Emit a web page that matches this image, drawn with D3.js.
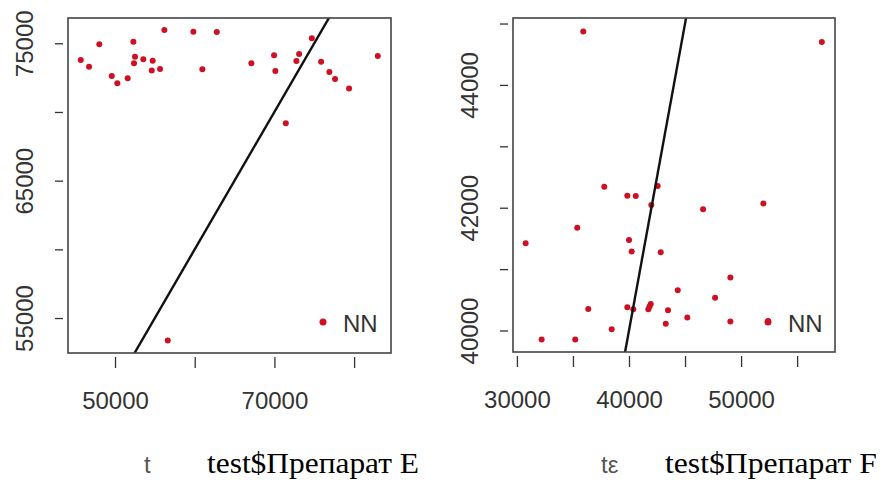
<!DOCTYPE html>
<html>
<head>
<meta charset="utf-8">
<script src="https://cdn.jsdelivr.net/npm/d3@7"></script>
<style>
  body { margin: 0; background: #fff; }
  svg { display: block; }
</style>
</head>
<body>
<div id="chart"></div>
<script>
'use strict';

// Препарат E: x = test, y = NN
var xE = [45700, 46740, 48030, 49590, 50290, 51590, 52300, 52510, 52385, 53550,
          54730, 54610, 55650, 56190, 59830, 60960, 62770, 67110, 69960, 70120,
          71430, 72760, 73100, 74690, 75860, 76900, 77610, 79370, 82970, 56615];
var yE = [73785, 73300, 74930, 72620, 72090, 72455, 75115, 74025, 73545, 73835,
          73735, 73010, 73130, 75970, 75845, 73110, 75820, 73545, 74130, 72985,
          69180, 73710, 74220, 75365, 73660, 72910, 72400, 71700, 74080, 53370];

// Препарат F
var xF = [35920, 57205, 37795, 39850, 40600, 42560, 41990, 46610, 51990, 35385,
          30777, 40000, 40240, 42830, 49045, 44350, 47680, 36365, 39850, 40385,
          41725, 41940, 41830, 43480, 43280, 45205, 49045, 38455, 32205, 35205,
          52410];
var yF = [44870, 44700, 42340, 42195, 42190, 42355, 42045, 41975, 42070, 41675,
          41420, 41475, 41285, 41275, 40865, 40655, 40535, 40350, 40380, 40345,
          40345, 40430, 40390, 40330, 40110, 40210, 40145, 40020, 39855, 39855,
          40155];

// axis limits (R usr) and ticks
var xLimE = [44100, 84630], yLimE = [52455, 76840];
var xLimF = [29650, 58380], yLimF = [39650, 45090];
var xTicksE = [50000, 60000, 70000, 80000], xLabelsE = [50000, 70000];
var yTicksE = [55000, 60000, 65000, 70000, 75000], yLabelsE = [55000, 65000, 75000];
var xTicksF = [30000, 35000, 40000, 45000, 50000, 55000], xLabelsF = [30000, 40000, 50000];
var yTicksF = [40000, 41000, 42000, 43000, 44000, 45000], yLabelsF = [40000, 42000, 44000];

// abline(0, 1)
var abline = [0, 1];
var legendLabel = 'NN';
var titles = ['test$Препарат E', 'test$Препарат F'];
var ghostTitles = ['t', 'tε'];

var width = 882, height = 489;
var red = '#cf0f22';

var svg = d3.select('#chart').append('svg')
  .attr('width', width)
  .attr('height', height);

function panel(opts) {
  var b = opts.box;
  var x = d3.scaleLinear().domain(opts.xLim).range([b.left, b.right]);
  var y = d3.scaleLinear().domain(opts.yLim).range([b.bottom, b.top]);
  var g = svg.append('g');

  g.append('clipPath').attr('id', opts.id)
    .append('rect')
    .attr('x', b.left).attr('y', b.top)
    .attr('width', b.right - b.left).attr('height', b.bottom - b.top);

  var pts = opts.xs.map(function(d, i) { return [d, opts.ys[i]]; });

  g.selectAll('circle.pt')
    .data(pts)
    .enter().append('circle')
    .attr('class', 'pt')
    .attr('cx', function(d) { return x(d[0]); })
    .attr('cy', function(d) { return y(d[1]); })
    .attr('r', 3)
    .attr('fill', red);

  var x0 = opts.xLim[0], x1 = opts.xLim[1];
  g.append('line')
    .attr('clip-path', 'url(#' + opts.id + ')')
    .attr('x1', x(x0)).attr('y1', y(abline[0] + abline[1] * x0))
    .attr('x2', x(x1)).attr('y2', y(abline[0] + abline[1] * x1))
    .attr('stroke', '#111')
    .attr('stroke-width', 2.4);

  g.append('rect')
    .attr('x', b.left).attr('y', b.top)
    .attr('width', b.right - b.left).attr('height', b.bottom - b.top)
    .attr('fill', 'none')
    .attr('stroke', '#444')
    .attr('stroke-width', 1.6);

  var xAxis = d3.axisBottom(x)
    .tickValues(opts.xTicks)
    .tickSize(11)
    .tickSizeOuter(0)
    .tickFormat(function(d) { return opts.xLabels.indexOf(d) >= 0 ? d : ''; });

  var ax = g.append('g')
    .attr('transform', 'translate(0,' + (b.bottom + 4) + ')')
    .call(xAxis);
  ax.select('.domain').remove();
  ax.selectAll('line').attr('stroke', '#333').attr('stroke-width', 1.3);
  ax.selectAll('text')
    .attr('y', 52).attr('dy', null)
    .attr('fill', '#333')
    .style('font', '24px "Liberation Sans", Arial, sans-serif');

  var yAxis = d3.axisLeft(y)
    .tickValues(opts.yTicks)
    .tickSize(8)
    .tickSizeOuter(0)
    .tickFormat(function(d) { return opts.yLabels.indexOf(d) >= 0 ? d : ''; });

  var ay = g.append('g')
    .attr('transform', 'translate(' + (b.left - 5) + ',0)')
    .call(yAxis);
  ay.select('.domain').remove();
  ay.selectAll('line').attr('stroke', '#333').attr('stroke-width', 1.3);
  ay.selectAll('text')
    .attr('x', null).attr('dy', null)
    .attr('text-anchor', 'middle')
    .attr('transform', 'translate(-30,0) rotate(-90)')
    .attr('fill', '#333')
    .style('font', '24px "Liberation Sans", Arial, sans-serif');

  // legend
  g.append('circle')
    .attr('cx', opts.legend[0]).attr('cy', opts.legend[1])
    .attr('r', 3.5)
    .attr('fill', red);
  g.append('text')
    .attr('x', opts.legend[0] + 20).attr('y', opts.legend[1] + 10)
    .attr('fill', '#333')
    .style('font', '24px "Liberation Sans", Arial, sans-serif')
    .text(legendLabel);

  // remains of the original axis title
  g.append('text')
    .attr('x', opts.ghostX).attr('y', 473)
    .attr('fill', '#555')
    .style('font', '24px "Liberation Sans", Arial, sans-serif')
    .text(opts.ghost);

  g.append('text')
    .attr('x', opts.titleX).attr('y', 473)
    .attr('fill', '#000')
    .attr('textLength', 212)
    .attr('lengthAdjust', 'spacingAndGlyphs')
    .style('font', '30px "Liberation Serif", "Times New Roman", serif')
    .text(opts.title);
}

panel({
  id: 'clipE',
  box: {left: 68, right: 391, top: 18, bottom: 353},
  xs: xE, ys: yE,
  xLim: xLimE, yLim: yLimE,
  xTicks: xTicksE, xLabels: xLabelsE,
  yTicks: yTicksE, yLabels: yLabelsE,
  legend: [323, 322],
  title: titles[0], titleX: 207,
  ghost: ghostTitles[0], ghostX: 144
});

panel({
  id: 'clipF',
  box: {left: 513, right: 835, top: 18, bottom: 352},
  xs: xF, ys: yF,
  xLim: xLimF, yLim: yLimF,
  xTicks: xTicksF, xLabels: xLabelsF,
  yTicks: yTicksF, yLabels: yLabelsF,
  legend: [768, 322],
  title: titles[1], titleX: 665,
  ghost: ghostTitles[1], ghostX: 601
});
</script>
</body>
</html>
